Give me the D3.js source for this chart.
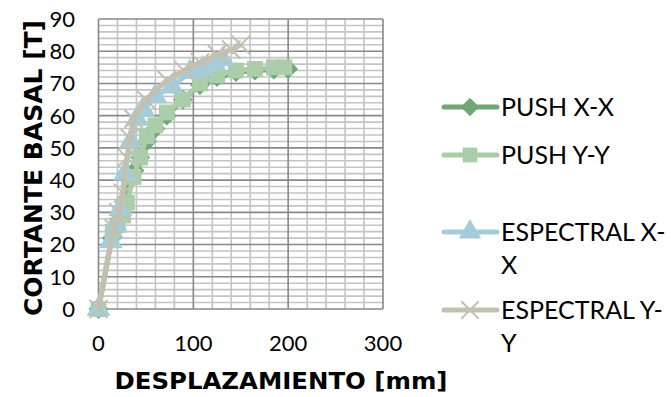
<!DOCTYPE html>
<html><head><meta charset="utf-8">
<script src="https://cdn.jsdelivr.net/npm/d3@7"></script>
<style>body{margin:0;background:#fff}svg{display:block;font-family:Lato,"Open Sans",sans-serif}</style>
</head><body><svg id="c" width="671" height="397"></svg>
<script>
const seriesNames = ["PUSH X-X", "PUSH Y-Y", "ESPECTRAL X-X", "ESPECTRAL Y-Y"];
const pushXX_x = [0, 14, 19, 24, 28, 33, 38, 44, 51, 60, 72, 89, 107, 125, 145, 165, 185, 200];
const pushXX_y = [0, 22, 25, 29, 33, 40, 43, 47, 52, 56, 60, 65, 69.5, 72, 73.5, 74, 74.3, 74.5];
const pushYY_x = [0, 15, 20, 26, 30, 37, 44, 51, 60, 72, 89, 107, 125, 145, 165, 185, 196];
const pushYY_y = [0, 24, 26, 29, 33, 41, 47, 53.6, 57, 61, 65, 70, 72.5, 74, 74.5, 75, 75];
const espXX_x = [0, 13, 18, 23, 28, 34, 40.5, 47, 60, 77.5, 96.5, 110, 122, 131];
const espXX_y = [0, 21, 26, 31, 42, 52, 59, 62, 66, 69, 73.5, 74.5, 76, 77.5];
const espYY_x = [0, 16, 21, 26, 30, 33, 37, 50, 72, 90, 107, 125, 140, 150];
const espYY_y = [0, 25, 30, 36, 47, 53, 59, 65, 71, 74, 76.5, 79, 80.5, 82];
const xTicks = [0, 100, 200, 300];
const yTicks = [0, 10, 20, 30, 40, 50, 60, 70, 80, 90];
const colors = ["#6fa876", "#abcdaa", "#a5cdd9", "#c3c0b0"];
const symbols = [d3.symbolDiamond2, d3.symbolSquare, d3.symbolTriangle, d3.symbolX];

const svg = d3.select("#c");
const x = d3.scaleLinear().domain([0, 300]).range([98.5, 383]);
const y = d3.scaleLinear().domain([0, 90]).range([309, 19]);
const g = svg.append("g");

// minor grid
g.selectAll(".mx").data(d3.range(0, 301, 20).filter(v => v % 100)).join("line")
  .attr("x1", d => x(d)).attr("x2", d => x(d)).attr("y1", y(0)).attr("y2", y(90))
  .attr("stroke", "#c4c4c4").attr("stroke-width", 1.6);
g.selectAll(".my").data(d3.range(0, 91, 2).filter(v => v % 10)).join("line")
  .attr("y1", d => y(d)).attr("y2", d => y(d)).attr("x1", x(0)).attr("x2", x(300))
  .attr("stroke", "#c4c4c4").attr("stroke-width", 1.6);
// major grid
g.selectAll(".Mx").data(xTicks).join("line")
  .attr("x1", d => x(d)).attr("x2", d => x(d)).attr("y1", y(0)).attr("y2", y(90))
  .attr("stroke", "#888").attr("stroke-width", 1.6);
g.selectAll(".My").data(yTicks).join("line")
  .attr("y1", d => y(d)).attr("y2", d => y(d)).attr("x1", x(0)).attr("x2", x(300))
  .attr("stroke", "#888").attr("stroke-width", 1.6);

// axes labels
svg.append("g").selectAll("text").data(yTicks).join("text")
  .attr("x", 75).attr("y", d => y(d)).attr("dy", "0.36em").attr("text-anchor", "end")
  .attr("font-size", 22).attr("fill", "#000").text(d => d);
svg.append("g").selectAll("text").data(xTicks).join("text")
  .attr("x", d => x(d)).attr("y", 351).attr("text-anchor", "middle")
  .attr("font-size", 22).attr("fill", "#000").text(d => d);

svg.append("text").attr("transform", "translate(42,168) rotate(-90)")
  .attr("text-anchor", "middle").attr("font-size", 24).attr("font-weight", "bold")
  .attr("font-family", "'DejaVu Sans',sans-serif")
  .attr("textLength", 296).attr("lengthAdjust", "spacingAndGlyphs").text("CORTANTE BASAL [T]");
svg.append("text").attr("x", 281).attr("y", 389)
  .attr("text-anchor", "middle").attr("font-size", 23).attr("font-weight", "bold")
  .attr("font-family", "'DejaVu Sans',sans-serif")
  .attr("textLength", 333).attr("lengthAdjust", "spacingAndGlyphs").text("DESPLAZAMIENTO [mm]");

const series = [
  [pushXX_x, pushXX_y], [pushYY_x, pushYY_y], [espXX_x, espXX_y], [espYY_x, espYY_y]
];
const line = d3.line().x(d => x(d[0])).y(d => y(d[1]));
function marker(sel, i, size) {
  const sym = d3.symbol().type(symbols[i]).size(size);
  if (i === 3) {
    sel.attr("d", sym).attr("fill", "none").attr("stroke", colors[i]).attr("stroke-width", 2);
  } else {
    sel.attr("d", sym).attr("fill", colors[i]);
  }
}
series.forEach((s, i) => {
  const pts = s[0].map((v, k) => [v, s[1][k]]);
  g.append("path").datum(pts).attr("d", line).attr("fill", "none")
    .attr("stroke", colors[i]).attr("stroke-width", 5).attr("stroke-linejoin", "round");
  g.selectAll(".m" + i).data(pts).join("path")
    .attr("transform", d => `translate(${x(d[0])},${y(d[1])})`)
    .call(sel => marker(sel, i, i === 3 ? 220 : 250));
});

// legend
const legY = [107, 155, 232, 310];
const legLines = [["PUSH X-X"], ["PUSH Y-Y"], ["ESPECTRAL X-", "X"], ["ESPECTRAL Y-", "Y"]];
legY.forEach((ly, i) => {
  const lg = svg.append("g");
  lg.append("line").attr("x1", 444).attr("x2", 497).attr("y1", ly).attr("y2", ly)
    .attr("stroke", colors[i]).attr("stroke-width", 5).attr("stroke-linecap", "round");
  lg.append("path").attr("transform", `translate(470,${ly})`).call(sel => marker(sel, i, i === 3 ? 200 : 220));
  const t = lg.append("text").attr("x", 501).attr("y", ly).attr("font-size", 25).attr("fill", "#000");
  legLines[i].forEach((s, k) => t.append("tspan").attr("x", 501).attr("dy", k === 0 ? "0.36em" : 33).text(s));
});
</script></body></html>
